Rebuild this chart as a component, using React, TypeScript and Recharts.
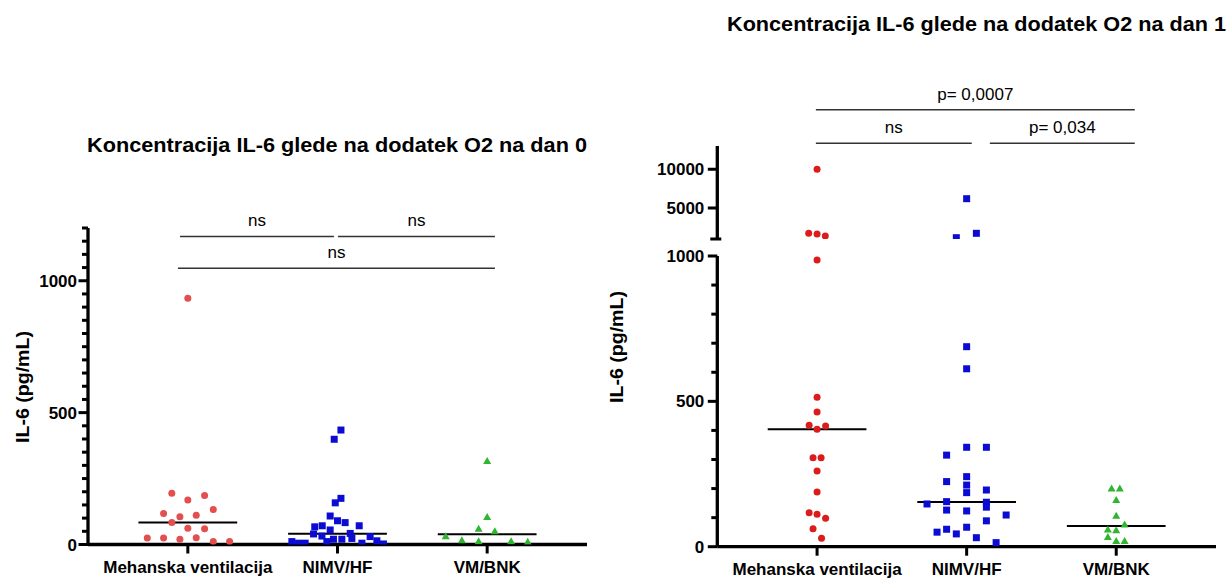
import React from 'react';
import { ScatterChart, Scatter, XAxis, YAxis, ReferenceLine } from 'recharts';

const FONT = '"Liberation Sans", Arial, Helvetica, sans-serif';

const categories = ['Mehanska ventilacija', 'NIMV/HF', 'VM/BNK'];

// ---------- Day 0 (values in pg/mL, jitter = horizontal spread in category units) ----------
const day0MehanskaValues = [934, 194, 186, 169, 118, 133, 105, 111, 83, 62, 60, 25, 25, 20, 26, 11, 11];
const day0MehanskaJitter = [0, -0.107, 0.112, 0, -0.162, 0.17, -0.053, 0.056, -0.107, 0, 0.112, -0.271, -0.162, -0.053, 0.056, 0.17, 0.279];
const day0NimvValues = [434, 399, 175, 158, 108, 90, 83, 71, 67, 71, 55, 40, 42, 32, 20, 20, 23, 30, 14, 11, 5, 5, 11, 5, 2];
const day0NimvJitter = [0.023, -0.022, 0.023, -0.015, -0.049, 0, 0.051, -0.102, -0.152, 0.145, -0.049, -0.16, 0.085, -0.104, -0.027, 0.029, 0.096, 0.218, 0.263, -0.305, -0.26, -0.216, -0.071, 0.163, 0.307];
const day0VmValues = [317, 105, 60, 51, 32, 17, 13, 13, 11];
const day0VmJitter = [0, 0, -0.057, 0.051, -0.277, -0.169, -0.057, 0.16, 0.271];
const day0Medians = [83, 41, 39];

// ---------- Day 1 ----------
const day1MehanskaValues = [10000, 1735, 1645, 1387, 986, 514, 463, 418, 415, 404, 306, 306, 260, 188, 117, 112, 98, 62, 29];
const day1MehanskaJitter = [0, -0.056, 0, 0.055, 0, 0, 0, -0.053, 0.057, 0, -0.027, 0.027, 0, 0, -0.053, 0, 0.057, -0.027, 0.03];
const day1NimvValues = [6200, 1735, 1168, 688, 612, 342, 342, 315, 241, 212, 186, 224, 195, 147, 155, 153, 136, 126, 123, 109, 89, 50, 60, 44, 67, 31, 14];
const day1NimvJitter = [0, 0.065, -0.069, 0, 0, 0, 0.132, -0.134, 0, 0, 0, -0.134, 0.132, -0.265, -0.134, 0.132, 0.132, -0.134, 0, 0.264, 0.132, -0.198, -0.134, -0.069, 0, 0.065, 0.197];
const day1VmValues = [201, 201, 161, 107, 77, 60, 57, 34, 20, 20];
const day1VmJitter = [-0.031, 0.024, 0, 0, 0.056, -0.056, 0, -0.056, 0, 0.056];
const day1Medians = [404, 154, 71];

// ---------- Axis ticks ----------
const day0YTickLabels = [0, 500, 1000];
const day0YMax = 1200;
const day0MinorStep = 50;
const day1LowerYTickLabels = [0, 500, 1000];
const day1LowerMinorStep = 100;
const day1UpperYTickLabels = [5000, 10000];
const day1BreakValue = 1000;
const day1UpperMax = 13000;

// ---------- Significance comparisons ----------
const day0Comparisons = [
  { from: -0.052, to: 0.976, level: 1168, label: 'ns' },
  { from: 1.003, to: 2.052, level: 1168, label: 'ns' },
  { from: -0.066, to: 2.052, level: 1047, label: 'ns' },
];
const day1Comparisons = [
  { from: -0.008, to: 2.124, level: 1503, label: 'p= 0,0007' },
  { from: -0.008, to: 1.034, level: 1388, label: 'ns' },
  { from: 1.155, to: 2.124, level: 1388, label: 'p= 0,034' },
];

const X_DOMAIN: [number, number] = [-0.667, 2.667];

type Pt = { x: number; y: number };
const toPoints = (values: number[], jitter: number[], cat: number): Pt[] =>
  values.map((v, i) => ({ x: cat + jitter[i], y: v }));

const range = (max: number, step: number) => {
  const out: number[] = [];
  for (let v = 0; v <= max + 1e-9; v += step) out.push(v);
  return out;
};

const circleShape = (color: string, r: number) => (p: any) =>
  <circle cx={p.cx} cy={p.cy} r={r} fill={color} />;
const squareShape = (color: string, s: number) => (p: any) =>
  <rect x={p.cx - s / 2} y={p.cy - s / 2} width={s} height={s} fill={color} />;
const triangleShape = (color: string, w: number, h: number) => (p: any) =>
  <path d={`M${p.cx},${p.cy - h * 0.55}L${p.cx + w / 2},${p.cy + h * 0.45}L${p.cx - w / 2},${p.cy + h * 0.45}Z`} fill={color} />;

const makeYTick = (labels: number[], gap: number, caps: number[] = []) => (p: any) => {
  const v = p.payload?.value;
  const major = labels.includes(v);
  const cap = caps.includes(v);
  const x = p.x;
  const y = p.y;
  return (
    <g>
      <line x1={x - (major ? 9.5 : cap ? 7 : 6)} x2={cap ? x + 4 : x} y1={y} y2={y} stroke="#000" strokeWidth={3} />
      {major && (
        <text x={x - gap} y={y} dy="0.36em" textAnchor="end" fontSize={17} fontWeight={700} fontFamily={FONT} fill="#000">
          {v}
        </text>
      )}
    </g>
  );
};

const axisLine = { stroke: '#000', strokeWidth: 3.3 };
const xTickStyle = { fill: '#000', fontSize: 17, fontWeight: 700, fontFamily: FONT };

const medianLines = (medians: number[]) =>
  medians.map((m, i) => (
    <ReferenceLine
      key={`med-${i}`}
      segment={[{ x: i - 0.33, y: m }, { x: i + 0.33, y: m }]}
      stroke="#000"
      strokeWidth={2}
      ifOverflow="visible"
    />
  ));

const comparisonLines = (comps: { from: number; to: number; level: number; label: string }[]) =>
  comps.map((c, i) => (
    <ReferenceLine
      key={`cmp-${i}`}
      segment={[{ x: c.from, y: c.level }, { x: c.to, y: c.level }]}
      stroke="#333"
      strokeWidth={1.5}
      ifOverflow="visible"
      label={{ value: c.label, position: 'top', offset: 10, fill: '#000', fontSize: 17, fontFamily: FONT }}
    />
  ));

const xAxisFor = (h: number) => (
  <XAxis
    type="number"
    dataKey="x"
    domain={X_DOMAIN}
    ticks={[0, 1, 2]}
    interval={0}
    allowDataOverflow
    tickFormatter={(v: number) => categories[v] ?? ''}
    axisLine={axisLine}
    tickLine={{ stroke: '#000', strokeWidth: 3 }}
    tickSize={9}
    tickMargin={7}
    height={h}
    tick={xTickStyle}
  />
);

export default function App() {
  const day0Ticks = range(day0YMax, day0MinorStep);
  const day1LowerTicks = range(day1BreakValue, day1LowerMinorStep);

  const lowerFilter = (pts: Pt[]) => pts.filter((p) => p.y <= day1BreakValue);
  const upperFilter = (pts: Pt[]) => pts.filter((p) => p.y > day1BreakValue);

  const d1Mv = toPoints(day1MehanskaValues, day1MehanskaJitter, 0);
  const d1Nimv = toPoints(day1NimvValues, day1NimvJitter, 1);
  const d1Vm = toPoints(day1VmValues, day1VmJitter, 2);

  return (
    <div style={{ position: 'absolute', left: 0, top: 0, width: 1230, height: 581, background: '#fff', overflow: 'hidden' }}>
      <svg width={1230} height={581} style={{ position: 'absolute', left: 0, top: 0 }}>
        <text x={87} y={152} fontSize={20} fontWeight={700} fontFamily={FONT} fill="#000" textLength={500} lengthAdjust="spacingAndGlyphs">
          Koncentracija IL-6 glede na dodatek O2 na dan 0
        </text>
        <text x={727} y={31} fontSize={20} fontWeight={700} fontFamily={FONT} fill="#000" textLength={499} lengthAdjust="spacingAndGlyphs">
          Koncentracija IL-6 glede na dodatek O2 na dan 1
        </text>
        <text transform="translate(29,387) rotate(-90)" textAnchor="middle" fontSize={18} fontWeight={700} fontFamily={FONT} fill="#000" textLength={112} lengthAdjust="spacingAndGlyphs">
          IL-6 (pg/mL)
        </text>
        <text transform="translate(623,347) rotate(-90)" textAnchor="middle" fontSize={18} fontWeight={700} fontFamily={FONT} fill="#000" textLength={112} lengthAdjust="spacingAndGlyphs">
          IL-6 (pg/mL)
        </text>
      </svg>

      {/* Day 0 */}
      <div style={{ position: 'absolute', left: 0, top: 0 }}>
        <ScatterChart width={600} height={581} margin={{ top: 228, right: 13, bottom: 6.5, left: 0 }}>
          {xAxisFor(30)}
          <YAxis
            type="number"
            dataKey="y"
            domain={[0, day0YMax]}
            ticks={day0Ticks}
            interval={0}
            allowDataOverflow
            width={88}
            axisLine={axisLine}
            tickLine={false}
            tickSize={0}
            tickMargin={0}
            tick={makeYTick(day0YTickLabels, 11)}
          />
          <Scatter data={toPoints(day0MehanskaValues, day0MehanskaJitter, 0)} shape={circleShape('#e34e4e', 3.5)} isAnimationActive={false} />
          <Scatter data={toPoints(day0NimvValues, day0NimvJitter, 1)} shape={squareShape('#0b0bd2', 7)} isAnimationActive={false} />
          <Scatter data={toPoints(day0VmValues, day0VmJitter, 2)} shape={triangleShape('#2fb52f', 8, 7)} isAnimationActive={false} />
          {medianLines(day0Medians)}
          {comparisonLines(day0Comparisons)}
        </ScatterChart>
      </div>

      {/* Day 1 - upper segment */}
      <div style={{ position: 'absolute', left: 600, top: 0 }}>
        <ScatterChart width={630} height={250} margin={{ top: 146, right: 14, bottom: 11, left: 0 }}>
          <XAxis type="number" dataKey="x" domain={X_DOMAIN} hide allowDataOverflow />
          <YAxis
            type="number"
            dataKey="y"
            domain={[day1BreakValue, day1UpperMax]}
            ticks={[day1BreakValue, ...day1UpperYTickLabels]}
            interval={0}
            allowDataOverflow
            width={117.3}
            axisLine={axisLine}
            tickLine={false}
            tickSize={0}
            tickMargin={0}
            tick={makeYTick(day1UpperYTickLabels, 13, [day1BreakValue])}
          />
          <Scatter data={upperFilter(d1Mv)} shape={circleShape('#dc1c1c', 3.5)} isAnimationActive={false} />
          <Scatter data={upperFilter(d1Nimv)} shape={squareShape('#0b0bd2', 7)} isAnimationActive={false} />
          <Scatter data={upperFilter(d1Vm)} shape={triangleShape('#2fb52f', 8, 7)} isAnimationActive={false} />
        </ScatterChart>
      </div>

      {/* Day 1 - lower segment */}
      <div style={{ position: 'absolute', left: 600, top: 0 }}>
        <ScatterChart width={630} height={581} margin={{ top: 256, right: 14, bottom: 6.3, left: 0 }}>
          {xAxisFor(28)}
          <YAxis
            type="number"
            dataKey="y"
            domain={[0, day1BreakValue]}
            ticks={day1LowerTicks}
            interval={0}
            allowDataOverflow
            width={117.3}
            axisLine={axisLine}
            tickLine={false}
            tickSize={0}
            tickMargin={0}
            tick={makeYTick(day1LowerYTickLabels, 13)}
          />
          <Scatter data={lowerFilter(d1Mv)} shape={circleShape('#dc1c1c', 3.5)} isAnimationActive={false} />
          <Scatter data={lowerFilter(d1Nimv)} shape={squareShape('#0b0bd2', 7)} isAnimationActive={false} />
          <Scatter data={lowerFilter(d1Vm)} shape={triangleShape('#2fb52f', 8, 7)} isAnimationActive={false} />
          {medianLines(day1Medians)}
          {comparisonLines(day1Comparisons)}
        </ScatterChart>
      </div>
    </div>
  );
}
